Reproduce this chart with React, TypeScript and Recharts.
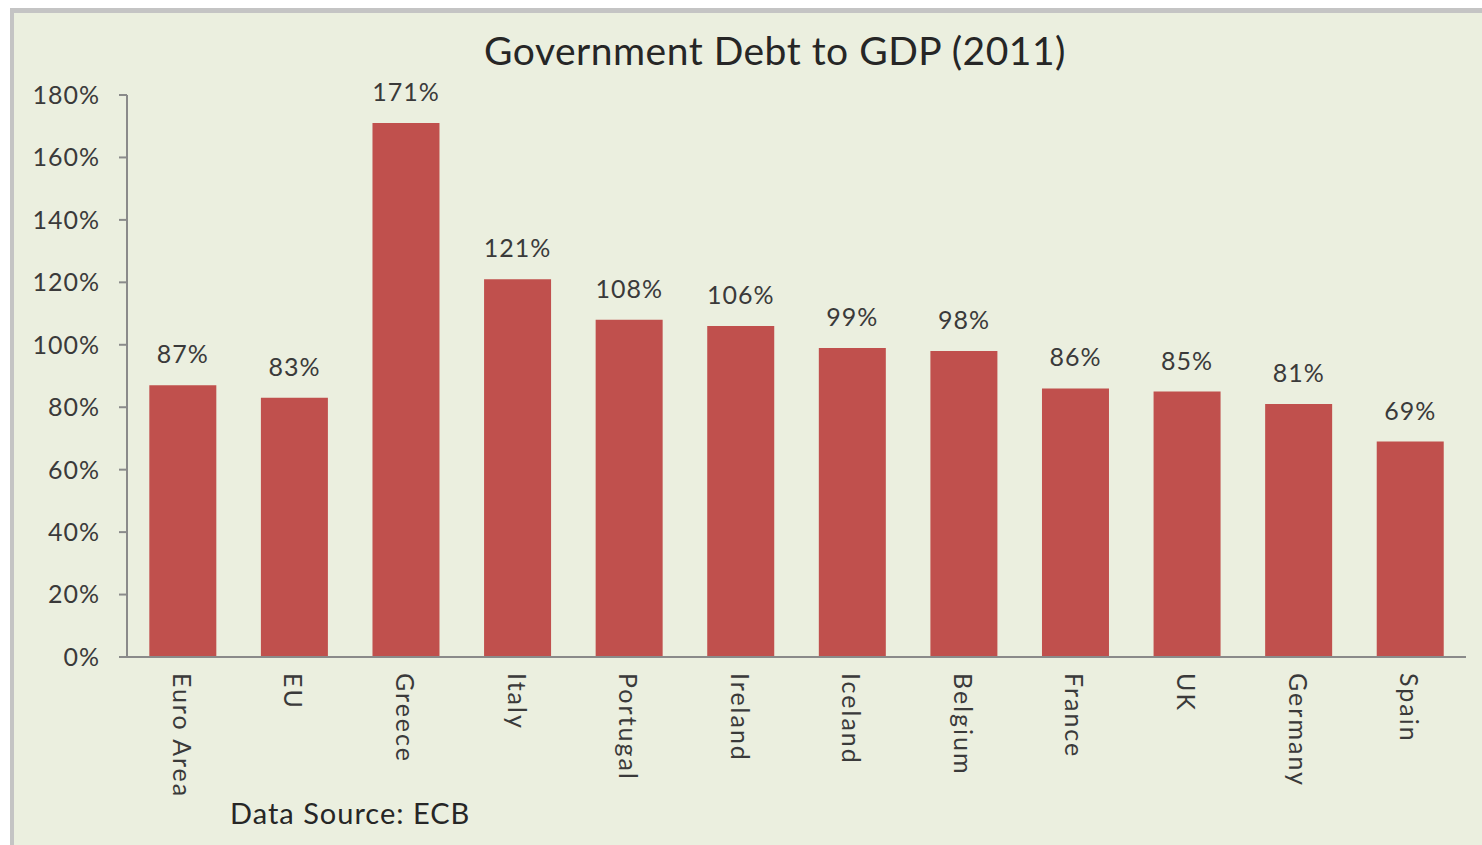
import React from 'react';
import { Bar, BarChart, LabelList, XAxis, YAxis } from 'recharts';

const countries = ['Euro Area', 'EU', 'Greece', 'Italy', 'Portugal', 'Ireland', 'Iceland', 'Belgium', 'France', 'UK', 'Germany', 'Spain'];
const debtPct = [87, 83, 171, 121, 108, 106, 99, 98, 86, 85, 81, 69];
const yTicks = [0, 20, 40, 60, 80, 100, 120, 140, 160, 180];
const boundaryTicks = [0, 1, 2, 3, 4, 5, 6, 7, 8, 9, 10, 11, 12];

const data = countries.map((name, i) => ({ name, debt: debtPct[i] }));

const FONT = 'Lato, "Open Sans", sans-serif';
const AXIS = '#8a8a8a';
const TEXT = '#3a3a3a';

const RotatedTick = (props: any) => {
  const { x, y, payload } = props;
  return (
    <text
      x={x}
      y={y + 8}
      transform={`rotate(90, ${x}, ${y + 8})`}
      textAnchor="start"
      dominantBaseline="central"
      fontSize={25}
      letterSpacing={2}
      fontFamily={FONT}
      fill={TEXT}
    >
      {payload.value}
    </text>
  );
};

const App = () => {
  return (
    <div style={{ position: 'absolute', left: 0, top: 0, width: 1482, height: 845, background: '#fff', overflow: 'hidden' }}>
      <div
        style={{
          position: 'absolute', left: 10, top: 8, width: 1472, height: 837,
          background: '#ebefdf', borderTop: '5px solid #c4c4c4', borderLeft: '4px solid #c4c4c4',
          boxSizing: 'border-box',
        }}
      />
      <div style={{ position: 'absolute', left: 0, top: 27, width: 1550, textAlign: 'center', fontFamily: FONT, fontSize: 39, letterSpacing: 0.5, color: '#262626' }}>
        Government Debt to GDP (2011)
      </div>
      <div style={{ position: 'absolute', left: 230, top: 795, fontFamily: FONT, fontSize: 29, letterSpacing: 1, color: '#262626' }}>
        Data Source: ECB
      </div>
      <div style={{ position: 'absolute', left: 0, top: 0 }}>
        <BarChart
          width={1482}
          height={845}
          data={data}
          margin={{ top: 95, right: 16, bottom: 0, left: 17 }}
          barCategoryGap="20%"
        >
          <XAxis
            dataKey="name"
            xAxisId="cat"
            height={188}
            tickLine={false}
            axisLine={{ stroke: AXIS, strokeWidth: 2 }}
            tick={<RotatedTick />}
            interval={0}
          />
          <XAxis
            xAxisId="edges"
            type="number"
            domain={[0, 12]}
            ticks={boundaryTicks}
            height={0}
            tick={false}
            tickSize={9}
            tickLine={{ stroke: AXIS, strokeWidth: 2 }}
            axisLine={false}
          />
          <YAxis
            width={110}
            domain={[0, 180]}
            ticks={yTicks}
            tickFormatter={(v: number) => `${v}%`}
            tickSize={8}
            tickMargin={19}
            axisLine={{ stroke: AXIS, strokeWidth: 2 }}
            tickLine={{ stroke: AXIS, strokeWidth: 2 }}
            tick={{ fontSize: 25, fontFamily: FONT, fill: TEXT, letterSpacing: 1 }}
          />
          <Bar dataKey="debt" xAxisId="cat" fill="#c0504d" isAnimationActive={false}>
            <LabelList
              dataKey="debt"
              position="top"
              offset={22}
              formatter={(v: any) => `${v}%`}
              style={{ fontSize: 25, fontFamily: FONT, fill: TEXT, letterSpacing: 1 }}
            />
          </Bar>
        </BarChart>
      </div>
    </div>
  );
};

export default App;
